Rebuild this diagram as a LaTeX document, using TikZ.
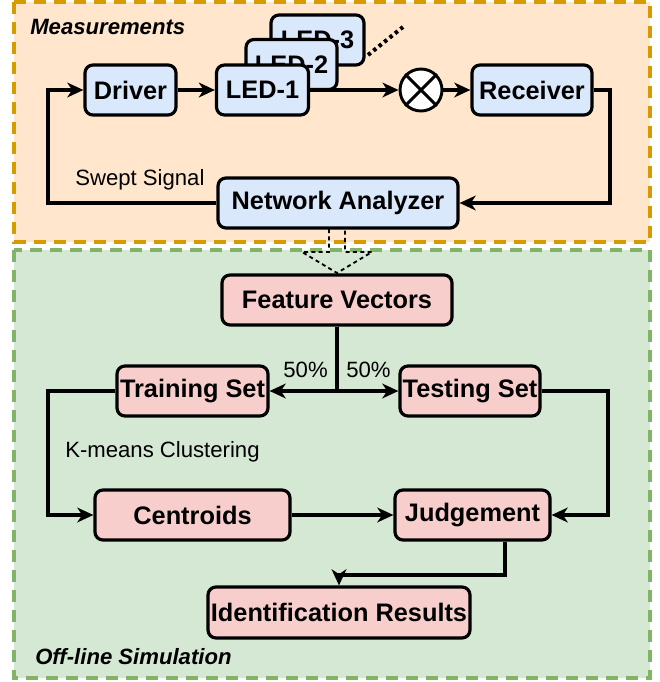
\documentclass[tikz,border=0pt]{standalone}
\usepackage{fontspec}
\setmainfont{Liberation Sans}
\usetikzlibrary{arrows.meta}
\definecolor{orgfill}{HTML}{FFE6CC}
\definecolor{orgline}{HTML}{D79B00}
\definecolor{grnfill}{HTML}{D5E8D4}
\definecolor{grnline}{HTML}{82B366}
\definecolor{bluefill}{HTML}{DAE8FC}
\definecolor{redfill}{HTML}{F8CECC}
\tikzset{
  box/.style={draw, line width=2.4pt, rounded corners=6pt, minimum height=37.5pt, inner sep=0pt,
    font=\fontsize{19}{21}\selectfont\bfseries},
  bbox/.style={box, fill=bluefill},
  rbox/.style={box, fill=redfill},
  container/.style={line width=2.5pt, dash pattern=on 9pt off 6pt},
  conn/.style={line width=2.4pt, -{Stealth[length=12pt,width=11pt,inset=3.5pt]}},
  plain/.style={line width=2.4pt},
  lbl/.style={font=\fontsize{16.6}{18}\selectfont, inner sep=0pt},
  ttl/.style={font=\fontsize{16.6}{18}\selectfont\bfseries\itshape, inner sep=0pt},
}
\begin{document}
\begin{tikzpicture}[x=0.75pt,y=-0.75pt]
\useasboundingbox (0,0) rectangle (660,682);
% containers
\draw[container, draw=orgline, fill=orgfill] (14,2) rectangle (650,242);
\draw[container, draw=grnline, fill=grnfill] (14,250) rectangle (650,678);
\node[ttl, anchor=west] (tm) at (30,27) {Measurements};
\node[ttl, anchor=west] (ts) at (35,657) {Off-line Simulation};

% measurement nodes
\node[bbox, minimum width=68.25pt] (driver) at (130.5,90) {Driver};
\node[draw, line width=2.2pt, fill=white, circle, minimum size=31.5pt, inner sep=0pt] (mix) at (421,90) {};
\coordinate (led1c) at (262.5,90);
\draw[conn] (led1c) -- (mix.west);
\node[bbox, minimum width=69.75pt] (led3) at (317.5,40) {LED-3};
\node[bbox, minimum width=68.25pt] (led2) at (291.5,64.5) {LED-2};
\node[bbox, minimum width=69pt] (led1) at (262.5,90) {LED-1};
\draw[line width=2.2pt] (mix.north west) -- (mix.south east) (mix.north east) -- (mix.south west);
\node[bbox, minimum width=90pt] (rec) at (532,90) {Receiver};
\node[bbox, minimum width=180pt] (na) at (338,203) {Network Analyzer};
\coordinate (d1) at (368,55);
\coordinate (d2) at (403,27);
\draw[line width=3pt, dash pattern=on 2.6pt off 2.6pt] (d1) -- (d2);

\draw[conn] (driver) -- (led1);
\draw[conn] (mix) -- (rec);
\coordinate (lx) at (48,0);
\coordinate (rx) at (610,0);
\draw[conn] (na.west) -| (lx |- driver.west) -- (driver.west);
\draw[conn] (rec.east) -| (rx |- na.east) -- (na.east);
\node[lbl, anchor=west] (sw) at (75,180) {Swept Signal};

% hollow dashed arrow
\draw[line width=1.4pt, dash pattern=on 3pt off 2.5pt] (329,229) -- (329,252) -- (302,252) -- (337,273) -- (372,252) -- (345,252) -- (345,229);

% simulation nodes
\node[rbox, minimum width=172.5pt] (fv) at (337,300) {Feature Vectors};
\node[rbox, minimum width=113.25pt] (train) at (192.5,391) {Training Set};
\node[rbox, minimum width=105pt] (test) at (470,391) {Testing Set};
\node[rbox, minimum width=146.25pt] (cent) at (192.5,515) {Centroids};
\node[rbox, minimum width=116.25pt] (judge) at (472.5,515) {Judgement};
\node[rbox, minimum width=196.5pt, minimum height=38.25pt] (idr) at (339,612.5) {Identification Results};

\coordinate (split) at (337,391);
\draw[plain] (fv.south) -- (split);
\draw[conn] (split) -- (train.east);
\draw[conn] (split) -- (test.west);
\node[lbl, anchor=south east] (p1) at (328,378) {50\%};
\node[lbl, anchor=south west] (p2) at (346,378) {50\%};
\coordinate (tx) at (608,0);
\draw[conn] (train.west) -| (lx |- cent.west) -- (cent.west);
\draw[conn] (cent) -- (judge);
\draw[conn] (test.east) -| (tx |- judge.east) -- (judge.east);
\node[lbl, anchor=west] (km) at (65,452) {K-means Clustering};
\coordinate (jx) at (505,0);
\coordinate (jy) at (0,575);
\draw[conn] (judge.south -| jx) -- (jx |- jy) -- (idr.north |- jy) -- (idr.north);
\end{tikzpicture}
\end{document}
